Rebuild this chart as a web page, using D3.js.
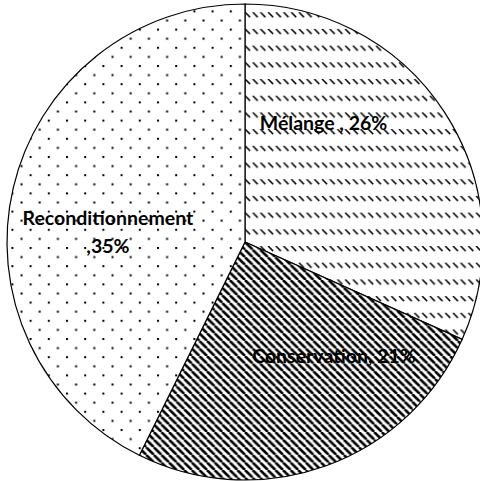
<!DOCTYPE html>
<html>
<head>
<meta charset="utf-8">
<script src="https://cdn.jsdelivr.net/npm/d3@7"></script>
<style>
  body { margin: 0; background: #fff; }
  .label { font-family: Lato, "Open Sans", sans-serif; font-weight: bold; font-size: 19.5px; fill: #000; }
</style>
</head>
<body>
<div id="chart"></div>
<script>
// data
var categories = ["Mélange", "Conservation", "Reconditionnement"];
var values = [26, 21, 35];
var labelLines = [["Mélange , 26%"], ["Conservation, 21%"], ["Reconditionnement", ",35%"]];

var svgWidth = 480;
var svgHeight = 481;
var cx = 245, cy = 242, radius = 238;

// where each label sits, in units of the radius (label baseline, centred)
var labelAt = [[0.33, -0.471], [0.374, 0.51], [-0.576, -0.071]];
var lineGap = 28;

var svg = d3.select("#chart")
    .append("svg")
    .attr("width", svgWidth)
    .attr("height", svgHeight);

var defs = svg.append("defs");

// dashed downward diagonal
var p1 = defs.append("pattern")
    .attr("id", "pat0")
    .attr("patternUnits", "userSpaceOnUse")
    .attr("width", 7.7)
    .attr("height", 16.7)
    .attr("y", 4);
p1.append("rect").attr("width", 7.7).attr("height", 16.7).attr("fill", "#fff");
[-7.7, 0, 7.7].forEach(function(o) {
  p1.append("line")
    .attr("x1", o).attr("y1", 0).attr("x2", o + 5).attr("y2", 5)
    .attr("stroke", "#000").attr("stroke-width", 1.5);
});

// wide downward diagonal
var s = 7.6;
var p2 = defs.append("pattern")
    .attr("id", "pat1")
    .attr("patternUnits", "userSpaceOnUse")
    .attr("width", s)
    .attr("height", s);
p2.append("rect").attr("width", s).attr("height", s).attr("fill", "#fff");
[-s, 0, s].forEach(function(o) {
  p2.append("line")
    .attr("x1", o).attr("y1", 0).attr("x2", o + s).attr("y2", s)
    .attr("stroke", "#000").attr("stroke-width", 2.6);
});

// sparse dots
var d = 18.2;
var p3 = defs.append("pattern")
    .attr("id", "pat2")
    .attr("patternUnits", "userSpaceOnUse")
    .attr("width", d)
    .attr("height", d)
    .attr("x", 3)
    .attr("y", 5);
p3.append("rect").attr("width", d).attr("height", d).attr("fill", "#fff");
p3.append("rect").attr("x", 0).attr("y", 0).attr("width", 2).attr("height", 2).attr("fill", "#000");
p3.append("rect").attr("x", d / 2).attr("y", d / 2).attr("width", 2).attr("height", 2).attr("fill", "#000");

var pie = d3.pie().sort(null).value(function(v) { return v; });
var arc = d3.arc().innerRadius(0).outerRadius(radius);

var chartGroup = svg.append("g")
    .attr("transform", `translate(${cx}, ${cy})`);

chartGroup.selectAll("path")
    .data(pie(values))
    .enter()
    .append("path")
    .attr("d", arc)
    .attr("fill", function(v, i) { return "url(#pat" + i + ")"; })
    .attr("stroke", "#000")
    .attr("stroke-width", 1.2);

// labels
var labels = chartGroup.selectAll("text.label")
    .data(categories)
    .enter()
    .append("text")
    .attr("class", "label")
    .attr("text-anchor", "middle")
    .attr("x", function(c, i) { return labelAt[i][0] * radius; })
    .attr("y", function(c, i) { return labelAt[i][1] * radius; });

labels.each(function(c, i) {
  var t = d3.select(this);
  labelLines[i].forEach(function(line, j) {
    t.append("tspan")
      .attr("x", labelAt[i][0] * radius)
      .attr("dy", j === 0 ? 0 : lineGap)
      .text(line);
  });
});
</script>
</body>
</html>
